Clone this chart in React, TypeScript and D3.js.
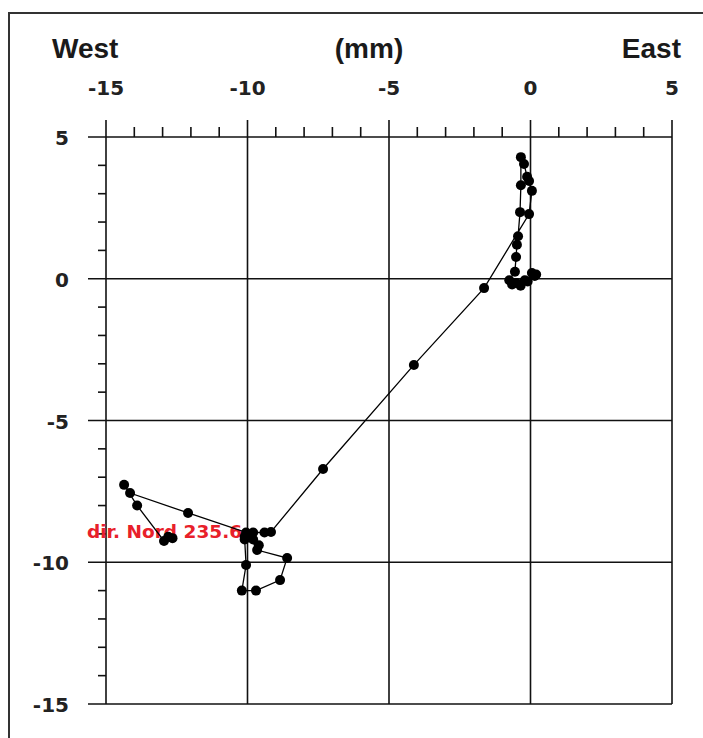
import { useRef, useEffect } from "react";
import { select, scaleLinear, line, range } from "d3";

// displacement path, in mm (east / north)
const eastMm = [
  0.15, 0.2, 0.05, -0.1, -0.2, -0.35, -0.5, -0.65, -0.75, -0.55, -0.51, -0.48,
  -0.44, -0.37, -0.34, -0.34, -0.23, -0.12, -0.05, 0.05, -0.05, -1.64, -4.12,
  -7.33, -9.17, -9.4, -9.8, -9.9, -9.66, -8.6, -8.85, -9.7, -10.2, -10.05, -10.1,
  -9.8, -9.6, -10.1, -10.05, -12.1, -14.15, -14.36, -13.9, -12.95, -12.8, -12.65,
];
const northMm = [
  0.1, 0.15, 0.2, -0.1, -0.05, -0.25, -0.15, -0.2, -0.05, 0.25, 0.77, 1.2,
  1.5, 2.35, 3.3, 4.29, 4.05, 3.6, 3.45, 3.1, 2.28, -0.33, -3.04,
  -6.71, -8.93, -8.95, -8.95, -9.1, -9.57, -9.85, -10.63, -11.0, -11.0, -10.1, -9.2,
  -9.2, -9.4, -9.1, -8.95, -8.26, -7.56, -7.27, -8.0, -9.25, -9.1, -9.15,
];
const majorTicks = [-15, -10, -5, 0, 5];
const tickLabels = ["-15", "-10", "-5", "0", "5"];
const dirLabel = "dir. Nord 235.6";
const labelIndex = 38;

const W = 703;
const H = 738;

const App = () => {
  const svgRef = useRef<SVGSVGElement>(null);

  useEffect(() => {
    const svg = select(svgRef.current);
    svg.selectAll("*").remove();

    const x = scaleLinear().domain([-15, 5]).range([106, 672]);
    const y = scaleLinear().domain([-15, 5]).range([704, 137]);
    const minor = range(-15, 6, 1).filter((v) => !majorTicks.includes(v));

    // outer frame (cropped: only left and top)
    svg.append("path")
      .attr("d", `M9,${H} V13 H${W}`)
      .attr("fill", "none")
      .attr("stroke", "#333")
      .attr("stroke-width", 2);

    // titles
    const title = (txt: string, tx: number, anchor: string) =>
      svg.append("text")
        .attr("x", tx)
        .attr("y", 58)
        .attr("text-anchor", anchor)
        .attr("font-family", "Liberation Sans, Arial, sans-serif")
        .attr("font-weight", "bold")
        .attr("font-size", 28)
        .attr("fill", "#1a1a1a")
        .text(txt);
    title("West", 52, "start");
    title("(mm)", 369, "middle");
    title("East", 681, "end");

    // grid at the major ticks, with the outside tick marks
    const grid = svg.append("g").attr("stroke", "#111").attr("stroke-width", 1.6);
    majorTicks.forEach((v) => {
      grid.append("line").attr("x1", x(v)).attr("x2", x(v)).attr("y1", 120).attr("y2", y(-15));
      grid.append("line").attr("x1", 88).attr("x2", x(5)).attr("y1", y(v)).attr("y2", y(v));
    });
    minor.forEach((v) => {
      grid.append("line").attr("x1", x(v)).attr("x2", x(v)).attr("y1", 127).attr("y2", y(5));
      grid.append("line").attr("x1", 98).attr("x2", x(-15)).attr("y1", y(v)).attr("y2", y(v));
    });

    const tickFont = (sel: any) =>
      sel.attr("font-family", "DejaVu Sans, sans-serif")
        .attr("font-weight", "bold")
        .attr("font-size", 20)
        .attr("fill", "#222");

    svg.selectAll(".xlab")
      .data(majorTicks)
      .join("text")
      .attr("class", "xlab")
      .attr("x", (d) => x(d))
      .attr("y", 95)
      .attr("text-anchor", "middle")
      .text((_, i) => tickLabels[i])
      .call(tickFont);

    svg.selectAll(".ylab")
      .data(majorTicks)
      .join("text")
      .attr("class", "ylab")
      .attr("x", 69)
      .attr("y", (d) => y(d) + 8)
      .attr("text-anchor", "end")
      .text((_, i) => tickLabels[i])
      .call(tickFont);

    const pts = eastMm.map((e, i) => [e, northMm[i]] as [number, number]);

    // direction label sits under the marks
    const lp = pts[labelIndex];
    svg.append("text")
      .attr("x", x(lp[0]) - 4)
      .attr("y", y(lp[1]) + 6)
      .attr("text-anchor", "end")
      .attr("font-family", "DejaVu Sans, sans-serif")
      .attr("font-weight", "bold")
      .attr("font-size", 18.5)
      .attr("fill", "#e8202a")
      .text(dirLabel);

    // path and points
    const path = line<[number, number]>()
      .x((d) => x(d[0]))
      .y((d) => y(d[1]));

    svg.append("path")
      .attr("d", path(pts))
      .attr("fill", "none")
      .attr("stroke", "#000")
      .attr("stroke-width", 1.3);

    svg.selectAll(".pt")
      .data(pts)
      .join("circle")
      .attr("class", "pt")
      .attr("cx", (d) => x(d[0]))
      .attr("cy", (d) => y(d[1]))
      .attr("r", 5)
      .attr("fill", "#000");
  }, []);

  return (
    <svg
      ref={svgRef}
      width={W}
      height={H}
      style={{ position: "absolute", left: 0, top: 0, background: "#fff" }}
    />
  );
};

export default App;
